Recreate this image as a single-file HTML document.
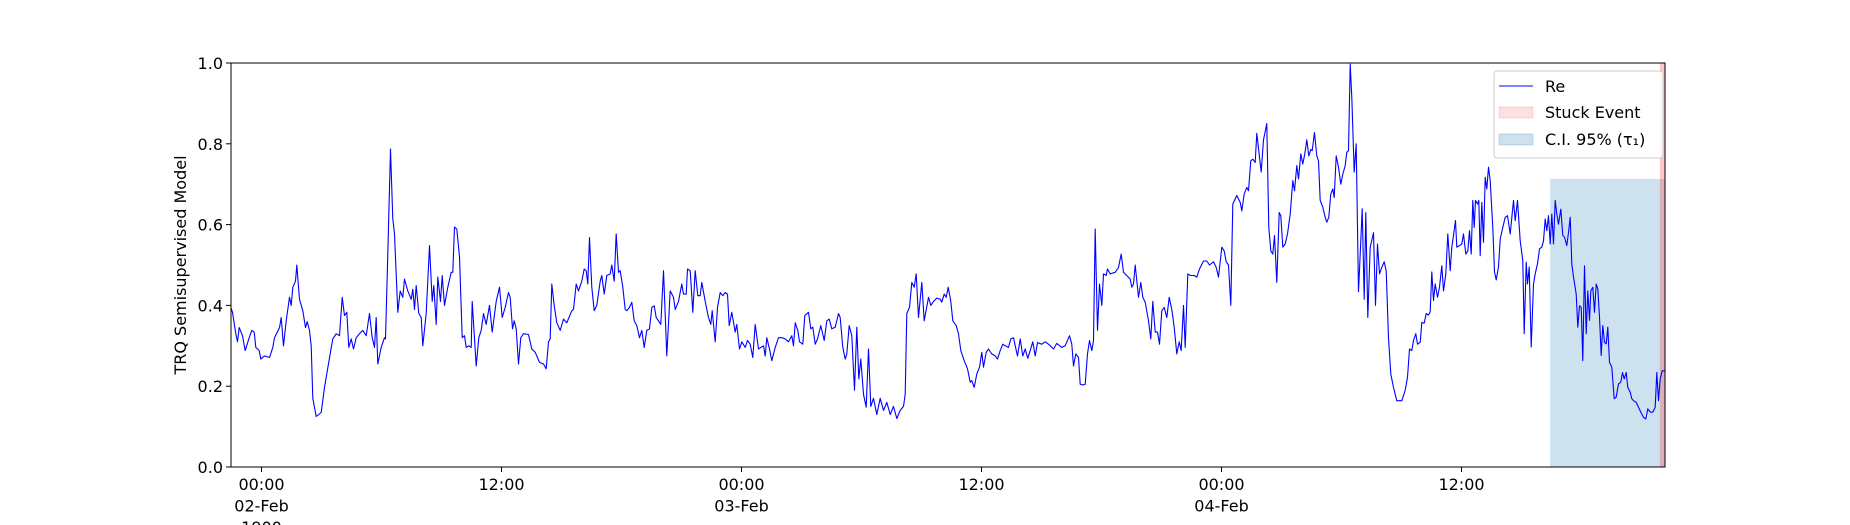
<!DOCTYPE html>
<html><head><meta charset="utf-8">
<style>
html,body{margin:0;padding:0;background:#fff;}
svg{display:block;font-family:"DejaVu Sans","Liberation Sans",sans-serif;}
</style></head>
<body>
<svg id="chart" width="1850" height="525" viewBox="0 0 1850 525"></svg>
<script>
const minutes = [-92,-87,-77,-72,-67,-57,-49,-37,-29,-22,-17,-7,-2,9,24,34,39,54,59,66,74,84,89,94,102,106,114,124,132,137,144,149,154,164,179,189,204,214,224,234,242,249,256,262,269,276,284,294,304,314,324,332,339,344,349,359,369,372,379,387,394,399,409,416,424,429,439,449,454,459,464,472,479,484,494,504,512,517,524,529,537,542,549,559,569,574,579,586,594,602,609,614,622,629,632,644,652,659,666,674,684,692,704,714,722,
731,741,746,753,758,764,771,778,786,801,811,821,834,846,854,861,866,871,878,886,896,906,916,931,936,944,951,961,968,974,979,984,991,998,1006,1016,1021,1028,1036,1046,1051,1058,1064,1071,1076,1084,1091,1096,1104,1111,1118,1126,1134,1141,1148,1156,1164,1171,1178,1184,1191,1198,1206,1216,1226,1236,1241,1251,1261,1266,1274,1278,1286,1294,1301,1309,1316,1321,1331,1341,1348,1352,1361,1368,1376,1384,1391,1398,1403,1411,1421,1426,1434,1441,1451,1458,1466,1474,1481,1491,1506,1511,1516,1524,1531,1541,1551,1561,1571,1581,1591,1596,1601,1609,1614,
1624,1630,1641,1648,1654,1661,1668,1678,1688,1696,1703,1711,1721,1731,1736,1744,1751,1756,1763,1771,1779,1786,1792,1798,1806,1814,1821,1828,1836,1846,1856,1866,1876,1886,1896,1906,1916,1926,1931,1936,1944,1951,1958,1964,1971,1981,1988,2001,2008,2016,2026,2036,2041,2048,2054,2060,2068,2074,2084,2091,2098,2108,2118,2126,2131,2138,2146,2154,2161,2166,2174,2181,2191,2201,2208,2216,2224,2231,2241,2248,2256,2261,2268,2276,2284,2291,2299,2306,2314,2321,2328,2341,2351,2361,2376,2386,2401,2411,2424,2431,2436,2443,2451,2456,2464,2471,2478,2484,2491,2496,2501,2508,2514,
2521,2526,2534,2538,2546,2561,2571,2579,2586,2596,2606,2611,2616,2621,2631,2638,2644,2651,2661,2668,2674,2681,2688,2694,2701,2708,2716,2723,2731,2738,2746,2753,2759,2766,2771,2779,2786,2798,2806,2814,2826,2836,2844,2856,2864,2871,2881,2888,2894,2901,2908,2914,2926,2936,2941,2948,2956,2961,2968,2974,2981,2986,2994,2999,3006,3016,3022,3028,3034,3039,3046,3053,3058,3064,3071,3078,3086,3094,3099,3106,3111,3118,3124,3130,3136,3142,3148,3152,3159,3166,3171,3176,3184,3191,3196,3202,3208,3214,3218,3224,3231,3238,3244,3251,3256,3261,3266,3271,3278,3284,3291,3296,3302,3308,3313,3319,3326,3336,3342,3348,3354,3361,3368,3374,3381,3388,3396,3406,3421,3431,
3438,3444,3451,3456,3463,3468,3476,3481,3488,3494,3501,3506,3511,3516,3521,3528,3534,3541,3546,3553,3559,3566,3571,3576,3582,3586,3594,3601,3606,3613,3619,3624,3629,3634,3638,3642,3648,3652,3656,3661,3666,3671,3676,3681,3686,3694,3699,3704,3711,3716,3724,3731,3738,3746,3756,3761,3768,3776,3784,3788,3794,3798,3803,3809,3816,3821,3828,3834,3841,3846,3851,3856,3861,3866,3871,3876,3881,3886,3891,3898,3904,3909,3916,3921,3926,3931,3936,3944,3949,3954,3959,3964,3969,3974,3979,3984,3988,3994,3999,4004,4009,4014,4019,4024,4029,4034,4039,4044,4051,4058,4064,4071,4078,4083,4088,4094,4099,4106,4111,4116,4124,4131,4138,4146,4153,4159,4166,4174,4181,4186,4191,4196,4202,4211];
const values = [0.395,0.383,0.33,0.31,0.345,0.325,0.288,0.32,0.338,0.334,0.296,0.288,0.267,0.275,0.271,0.296,0.32,0.345,0.37,0.30,0.362,0.42,0.40,0.445,0.46,0.50,0.415,0.387,0.345,0.36,0.338,0.30,0.17,0.125,0.135,0.197,0.27,0.317,0.33,0.325,0.42,0.375,0.383,0.296,0.317,0.292,0.32,0.33,0.338,0.325,0.38,0.32,0.296,0.37,0.255,0.296,0.32,0.317,0.527,0.787,0.614,0.577,0.383,0.436,0.42,0.465,0.436,0.415,0.44,0.39,0.449,0.38,0.37,0.30,0.38,0.548,0.41,0.449,0.353,0.47,0.41,0.474,0.40,0.445,0.482,0.482,0.594,0.589,0.52,0.32,0.325,0.296,0.30,0.296,0.41,0.25,0.32,0.338,0.38,0.353,0.40,0.334,0.41,0.445,0.37,
0.395,0.432,0.42,0.342,0.362,0.342,0.255,0.32,0.33,0.328,0.292,0.284,0.259,0.255,0.243,0.31,0.317,0.453,0.40,0.357,0.338,0.366,0.357,0.387,0.39,0.453,0.436,0.46,0.49,0.486,0.453,0.568,0.445,0.387,0.40,0.46,0.474,0.428,0.474,0.478,0.50,0.46,0.577,0.482,0.486,0.445,0.39,0.387,0.395,0.408,0.362,0.35,0.32,0.338,0.296,0.338,0.342,0.395,0.399,0.37,0.362,0.353,0.486,0.275,0.436,0.42,0.39,0.41,0.453,0.428,0.428,0.49,0.486,0.383,0.486,0.424,0.424,0.457,0.41,0.37,0.353,0.387,0.31,0.395,0.432,0.424,0.432,0.428,0.35,0.383,0.334,0.353,0.292,0.31,0.296,0.313,0.304,0.271,0.353,0.292,0.30,0.275,0.32,0.292,0.263,0.296,0.32,0.32,0.317,0.31,0.325,0.30,0.357,0.338,0.31,
0.304,0.375,0.383,0.342,0.346,0.304,0.317,0.35,0.313,0.362,0.366,0.342,0.346,0.38,0.37,0.296,0.267,0.28,0.35,0.325,0.19,0.346,0.218,0.267,0.18,0.148,0.292,0.15,0.17,0.13,0.17,0.14,0.16,0.13,0.15,0.12,0.14,0.15,0.18,0.38,0.395,0.457,0.445,0.478,0.37,0.457,0.362,0.42,0.40,0.41,0.418,0.415,0.408,0.428,0.42,0.445,0.41,0.362,0.35,0.33,0.288,0.263,0.243,0.21,0.214,0.197,0.23,0.247,0.284,0.247,0.284,0.292,0.28,0.275,0.267,0.288,0.304,0.30,0.296,0.317,0.32,0.30,0.275,0.317,0.275,0.292,0.269,0.288,0.31,0.275,0.308,0.304,0.31,0.304,0.292,0.306,0.296,0.30,0.325,0.304,0.25,0.28,0.271,0.205,0.203,0.205,0.28,0.313,0.288,0.313,0.589,0.338,0.453,
0.40,0.478,0.474,0.49,0.478,0.482,0.494,0.527,0.482,0.474,0.465,0.445,0.453,0.50,0.42,0.457,0.42,0.408,0.362,0.317,0.41,0.334,0.334,0.304,0.387,0.395,0.37,0.42,0.39,0.346,0.28,0.31,0.288,0.40,0.296,0.478,0.474,0.474,0.47,0.49,0.51,0.51,0.50,0.508,0.494,0.47,0.544,0.535,0.508,0.50,0.40,0.651,0.672,0.655,0.634,0.676,0.692,0.684,0.758,0.762,0.754,0.826,0.767,0.73,0.81,0.85,0.593,0.535,0.527,0.573,0.457,0.63,0.622,0.544,0.552,0.577,0.626,0.709,0.684,0.746,0.713,0.775,0.75,0.775,0.81,0.77,0.786,0.783,0.828,0.77,0.758,0.66,0.643,0.618,0.606,0.618,0.676,0.688,0.667,0.77,0.742,0.70,0.725,0.746,0.779,0.783,0.997,0.915,0.73,0.80,0.434,0.527,0.639,0.415,0.63,0.37,0.544,0.58,0.40,0.552,0.478,0.494,0.508,0.486,0.32,0.23,0.197,0.164,0.164,0.19,
0.222,0.292,0.288,0.313,0.33,0.304,0.309,0.358,0.356,0.38,0.376,0.384,0.483,0.412,0.453,0.42,0.445,0.498,0.436,0.478,0.577,0.486,0.544,0.573,0.61,0.544,0.548,0.552,0.577,0.527,0.535,0.585,0.527,0.66,0.593,0.66,0.651,0.66,0.523,0.655,0.556,0.717,0.688,0.742,0.709,0.593,0.483,0.463,0.495,0.564,0.593,0.618,0.622,0.577,0.66,0.61,0.66,0.56,0.511,0.33,0.507,0.453,0.495,0.297,0.453,0.478,0.503,0.54,0.544,0.56,0.614,0.585,0.622,0.552,0.626,0.552,0.66,0.626,0.601,0.638,0.573,0.569,0.548,0.581,0.618,0.503,0.47,0.428,0.346,0.399,0.395,0.263,0.498,0.33,0.436,0.363,0.436,0.445,0.383,0.453,0.441,0.371,0.276,0.35,0.309,0.305,0.346,0.259,0.247,0.169,0.173,0.206,0.21,0.234,0.218,0.234,0.197,0.185,0.169,0.164,0.16,0.148,0.136,0.123,0.119,0.144,0.136,0.136,0.148,0.234,0.164,0.218,0.238,0.238];
const xTickMinutes = [0,720,1440,2160,2880,3600];
const xTickLabels = [["00:00","02-Feb","1900"],["12:00"],["00:00","03-Feb"],["12:00"],["00:00","04-Feb"],["12:00"]];
const yTicks = [0,0.2,0.4,0.6,0.8,1.0];
const yTickLabels = ["0.0","0.2","0.4","0.6","0.8","1.0"];
const ciSpan = [3866, 4211];
const ciUpper = [0.713];
const stuckSpan = [4195, 4211];

const L=231,R=1665,T=63,B=467, M0=-91.5, M1=4210.5;
const X=m=>L+(m-M0)/(M1-M0)*(R-L);
const Y=v=>B-v*(B-T);
const NS="http://www.w3.org/2000/svg";
const svg=document.getElementById('chart');
function mk(tag,attrs,parent){const e=document.createElementNS(NS,tag);for(const k in attrs)e.setAttribute(k,attrs[k]);(parent||svg).appendChild(e);return e;}

const ci=mk('rect',{x:X(ciSpan[0]),y:Y(ciUpper[0]),width:X(ciSpan[1])-X(ciSpan[0]),height:Y(0)-Y(ciUpper[0]),fill:'#1f77b4','fill-opacity':0.22});


const st=mk('rect',{x:X(stuckSpan[0]),y:T,width:X(stuckSpan[1])-X(stuckSpan[0]),height:B-T,fill:'#ff0000','fill-opacity':0.22});



let d='';
for(let i=0;i<minutes.length;i++){d+=(i?'L':'M')+X(minutes[i]).toFixed(1)+','+Y(values[i]).toFixed(1);}
const clip=mk('clipPath',{id:'plotclip'});
mk('rect',{x:L,y:T-1,width:R-L,height:B-T+2},clip);
const line=mk('path',{d:d,fill:'none',stroke:'#0000ff','stroke-width':1.1,'stroke-linejoin':'round','clip-path':'url(#plotclip)'});



const frame=mk('rect',{x:L,y:T,width:R-L,height:B-T,fill:'none',stroke:'#000','stroke-width':1});



yTicks.forEach((v,i)=>{
  const t=mk('line',{x1:L-5,x2:L,y1:Y(v),y2:Y(v),stroke:'#000','stroke-width':1});
  
  
  const tx=mk('text',{x:L-8,y:Y(v)+6,'text-anchor':'end','font-size':16,fill:'#000'});
  tx.textContent=yTickLabels[i];
  
  
});
xTickMinutes.forEach((m,i)=>{
  const t=mk('line',{x1:X(m),x2:X(m),y1:B,y2:B+5,stroke:'#000','stroke-width':1});
  
  
  const tx=mk('text',{x:X(m),y:B+23,'text-anchor':'middle','font-size':16,fill:'#000'});
  
  
  xTickLabels[i].forEach((s,j)=>{const ts=mk('tspan',{x:X(m),dy:j?21.5:0},tx);ts.textContent=s;});
});
const yl=mk('text',{x:0,y:0,transform:'translate(186,265) rotate(-90)','text-anchor':'middle','font-size':16,fill:'#000'});
yl.textContent='TRQ Semisupervised Model';



const lg=mk('g',{});


mk('rect',{x:1494,y:71,width:169,height:87,rx:3,fill:'#fff','fill-opacity':0.85,stroke:'#ccc','stroke-width':1},lg);
mk('line',{x1:1499,x2:1533,y1:86,y2:86,stroke:'#0000ff','stroke-width':1.1},lg);
mk('rect',{x:1499,y:107,width:34,height:11,fill:'#ff0000','fill-opacity':0.12,stroke:'#ff0000','stroke-opacity':0.12},lg);
mk('rect',{x:1499,y:134,width:34,height:11,fill:'#1f77b4','fill-opacity':0.22,stroke:'#1f77b4','stroke-opacity':0.22},lg);
[['Re',92,'legend-entry-re'],['Stuck Event',118,'legend-entry-stuck-event'],['C.I. 95% (τ₁)',145,'legend-entry-ci']].forEach(e=>{
  const t=mk('text',{x:1545,y:e[1],'font-size':16,fill:'#000'},lg);
  t.textContent=e[0];
  
  
});
</script>
</body></html>
